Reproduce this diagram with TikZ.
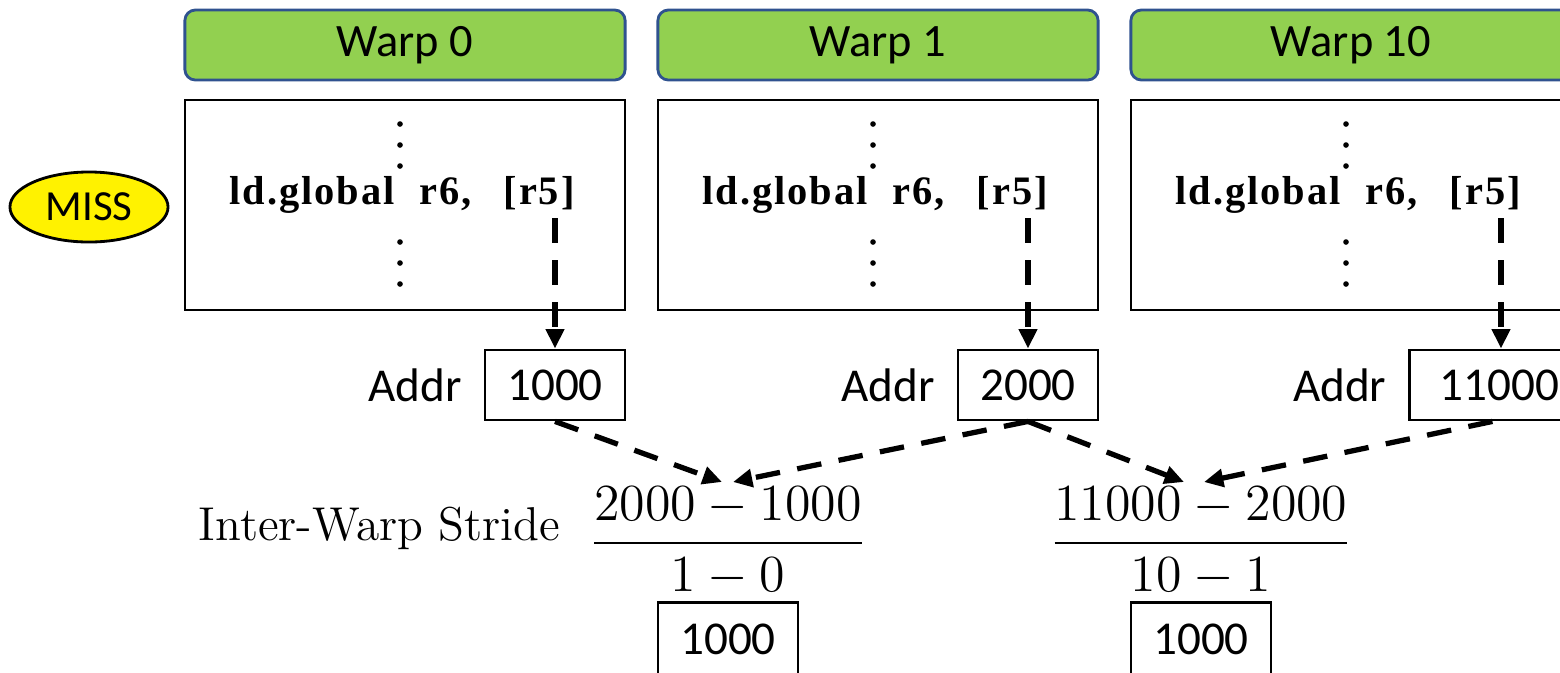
\documentclass[tikz,border=0pt]{standalone}
\usepackage{fix-cm}
\usepackage{fontspec}
\usepackage{amsmath}
\newfontfamily\calibri{Carlito}
\newfontfamily\codefont[LetterSpace=5]{Liberation Serif}
\usetikzlibrary{arrows.meta,positioning,shapes.geometric}

\definecolor{warpgreen}{HTML}{92D050}
\definecolor{warpblue}{HTML}{2F528F}

\tikzset{
  warphead/.style={rectangle,draw=warpblue,line width=0.8pt,fill=warpgreen,rounded corners=3pt,
    minimum width=4.4cm,minimum height=0.7cm,font=\calibri\fontsize{13.2}{15}\selectfont},
  codebox/.style={rectangle,draw,line width=0.7pt,minimum width=4.4cm,minimum height=2.1cm},
  codeline/.style={anchor=base,inner sep=0pt,font=\codefont\bfseries\fontsize{11.5}{13}\selectfont},
  valbox/.style={rectangle,draw,line width=0.8pt,minimum width=1.4cm,minimum height=0.7cm,inner sep=0pt,
    font=\calibri\fontsize{13.4}{15}\selectfont},
  addrlabel/.style={inner sep=0pt,font=\calibri\fontsize{13.4}{15}\selectfont},
  ptr/.style={line width=1.5pt,dash pattern=on 7pt off 5pt,-{Triangle[length=5.5pt,width=5pt]}},
}

\begin{document}
\begin{tikzpicture}[x=0.01cm,y=-0.01cm]
\useasboundingbox (0,0) rectangle (1560,672);
\clip (0,0) rectangle (1560,672);

% warps and their code
\node[warphead] (h0) at (405,45) {Warp 0};
\node[warphead] (h1) at (878,45) {Warp 1};
\node[warphead] (h10) at (1351,45) {Warp 10};
\node[codebox] (k0) at (405,205) {};
\node[codebox] (k1) at (878,205) {};
\node[codebox] (k10) at (1351,205) {};
\node[codeline] (c0) at (402,204) {ld.global\hspace{7pt}r6,\hspace{9pt}[r5]};
\node[codeline] (c1) at (875,204) {ld.global\hspace{7pt}r6,\hspace{9pt}[r5]};
\node[codeline] (c10) at (1348,204) {ld.global\hspace{7pt}r6,\hspace{9pt}[r5]};
\foreach \x in {400,873,1346}
  \foreach \y in {124,145,166,242,263,284}
    \fill (\x,\y) circle (0.8pt);

\node[ellipse,draw,line width=0.8pt,fill=yellow,minimum width=1.58cm,minimum height=0.7cm,inner sep=0pt,
  font=\calibri\fontsize{12.2}{14}\selectfont] (miss) at (89,207) {MISS};

% addresses
\node[valbox] (a0) at (555,385) {1000};
\node[valbox] (a1) at (1028,385) {2000};
\node[valbox,minimum width=1.8cm,anchor=west] (a10) at (1408,385) {11000\hspace{0.18cm}};
\node[addrlabel,left=0.21cm of a0] (l0) {Addr};
\node[addrlabel,left=0.21cm of a1] (l1) {Addr};
\node[addrlabel,left=0.21cm of a10] (l10) {Addr};

\coordinate (p0) at (555,218);
\coordinate (p1) at (1028,218);
\coordinate (p10) at (1501,218);
\draw[ptr] (p0) -- (p0 |- a0.north);
\draw[ptr] (p1) -- (p1 |- a1.north);
\draw[ptr] (p10) -- (p10 |- a10.north);

% strides
\node[anchor=base west,inner sep=0pt,font=\fontsize{13.5}{16}\selectfont] (label) at (198,540) {Inter-Warp Stride};
\node[anchor=base,inner sep=0pt,font=\fontsize{14.8}{18}\selectfont] (f1) at (728,556) {$\dfrac{2000-1000}{1-0}$};
\node[anchor=base,inner sep=0pt,font=\fontsize{14.8}{18}\selectfont] (f2) at (1201,556) {$\dfrac{11000-2000}{10-1}$};
\node[valbox,minimum height=0.73cm] (r1) at (728,639) {1000};
\node[valbox,minimum height=0.73cm] (r2) at (1201,639) {1000};

\coordinate (t1a) at (722,482);
\coordinate (t1b) at (733,482);
\coordinate (t2a) at (1184,482);
\coordinate (t2b) at (1204,482);
\draw[ptr] (a0.south) -- (t1a);
\draw[ptr] (a1.south) -- (t1b);
\draw[ptr] (a1.south) -- (t2a);
\draw[ptr] ([xshift=-0.07cm]a10.south) -- (t2b);

\end{tikzpicture}
\end{document}
